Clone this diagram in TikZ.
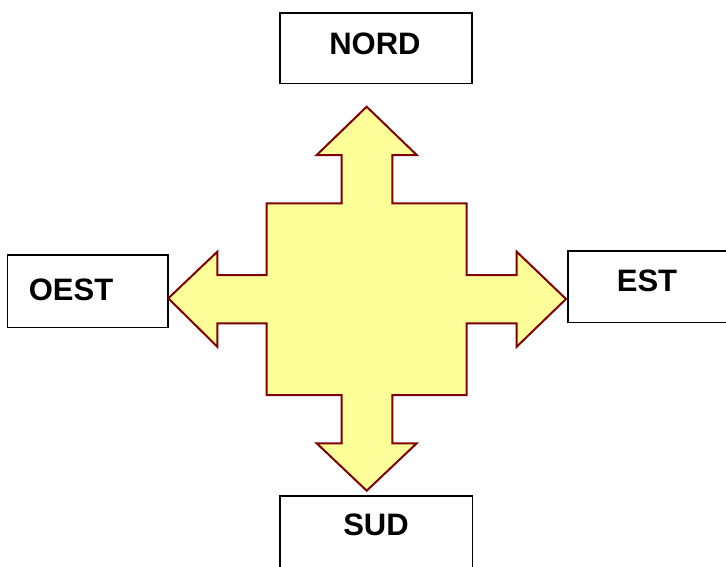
\documentclass[tikz,border=0pt]{standalone}
\usepackage{fontspec}
\setmainfont{Liberation Sans}
\begin{document}
\begin{tikzpicture}[x=1pt,y=-1pt,
  dirbox/.style={draw=black,line width=1.5pt,fill=white,inner sep=0pt,anchor=north west},
  dirlabel/.style={font=\fontsize{31}{34}\selectfont\bfseries,inner sep=0pt},
  bigarrow/.style={draw=arrowred,fill=arrowyellow,line width=2pt,line join=miter}]
\definecolor{arrowred}{HTML}{800000}
\definecolor{arrowyellow}{HTML}{FFFF99}
\useasboundingbox (0,0) rectangle (726,566);
% boxes
\node[dirbox,minimum width=192pt,minimum height=70.4pt] (nordbox) at (279,12.3) {};
\node[dirbox,minimum width=160.6pt,minimum height=72.7pt] (oestbox) at (6.7,254) {};
\node[dirbox,minimum width=158.4pt,minimum height=71.7pt] (estbox) at (567.3,250) {};
\node[dirbox,minimum width=192.7pt,minimum height=90pt] (sudbox) at (279,495) {};
% labels
\node[dirlabel] (nord) at (375,43.5) {NORD};
\node[dirlabel] (oest) at (71,290) {OEST};
\node[dirlabel] (est) at (647,281) {EST};
\node[dirlabel] (sud) at (376,525) {SUD};
% four-way arrow
\draw[bigarrow] (366.7,106.7) -- (416.7,155) -- (392.3,155) -- (392.3,203.3)
  -- (466.7,203.3) -- (466.7,275) -- (516.7,275) -- (516.7,251.7) -- (566,299)
  -- (516.7,346.7) -- (516.7,323.3) -- (466.7,323.3) -- (466.7,395)
  -- (392.3,395) -- (392.3,443.3) -- (416.7,443.3) -- (366.7,490.7)
  -- (316.7,443.3) -- (341.7,443.3) -- (341.7,395) -- (266.7,395)
  -- (266.7,323.3) -- (217.3,323.3) -- (217.3,346.7) -- (168.3,298.3)
  -- (217.3,251.7) -- (217.3,275) -- (266.7,275) -- (266.7,203.3)
  -- (341.7,203.3) -- (341.7,155) -- (316.7,155) -- cycle;
\end{tikzpicture}
\end{document}
